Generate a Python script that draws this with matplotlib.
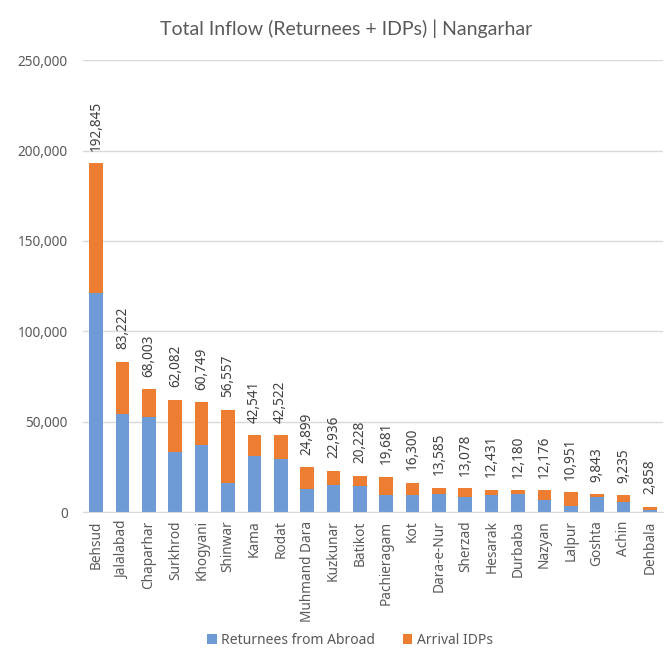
import numpy as np
import matplotlib.pyplot as plt
from matplotlib.ticker import FuncFormatter

districts = ["Behsud", "Jalalabad", "Chaparhar", "Surkhrod", "Khogyani", "Shinwar",
             "Kama", "Rodat", "Muhmand Dara", "Kuzkunar", "Batikot", "Pachieragam",
             "Kot", "Dara-e-Nur", "Sherzad", "Hesarak", "Durbaba", "Nazyan",
             "Lalpur", "Goshta", "Achin", "Dehbala"]
totals = [192845, 83222, 68003, 62082, 60749, 56557, 42541, 42522, 24899, 22936,
          20228, 19681, 16300, 13585, 13078, 12431, 12180, 12176, 10951, 9843,
          9235, 2858]
# returnees, IDPs = total - returnees
returnees = [121000, 54200, 52400, 33400, 36900, 16200, 30800, 29300, 12900, 14900,
             14600, 9600, 9200, 10100, 8300, 9400, 10000, 6800, 3500, 8500,
             5500, 900]
idps = [t - r for t, r in zip(totals, returnees)]

blue = "#6E9AD5"
orange = "#ED7D31"
grey = "#595959"

plt.rcParams['font.family'] = ['Noto Sans', 'DejaVu Sans']

fig = plt.figure(figsize=(6.64, 6.54), dpi=100)
ax = fig.add_axes([0.125, 0.217, 0.8735, 0.691])

x = np.arange(len(districts))
ax.bar(x, returnees, width=0.52, color=blue, label="Returnees from Abroad", zorder=2)
ax.bar(x, idps, width=0.52, bottom=returnees, color=orange, label="Arrival IDPs", zorder=2)

for xi, t in zip(x, totals):
    ax.annotate(f"{t:,}", (xi, t), xytext=(0, 9), textcoords="offset points",
                rotation=90, ha="center", va="bottom", fontsize=9.8, color="#404040")

ax.set_ylim(0, 250000)
ax.set_xlim(-0.5, len(districts) - 0.5)
ax.set_yticks(np.arange(0, 250001, 50000))
ax.yaxis.set_major_formatter(FuncFormatter(lambda v, p: f"{int(v):,}"))
ax.set_xticks(x)
ax.set_xticklabels(districts, rotation=90)
ax.tick_params(axis="both", length=0, labelsize=9.8, labelcolor=grey)
ax.tick_params(axis="y", pad=11)
ax.tick_params(axis="x", pad=6)
ax.grid(axis="y", color="#D9D9D9", linewidth=1, zorder=0)
for s in ["top", "right", "left"]:
    ax.spines[s].set_visible(False)
ax.spines["bottom"].set_color("#D9D9D9")

fig.suptitle("Total Inflow (Returnees + IDPs) | Nangarhar", x=0.522, y=0.97, fontsize=14,
             color=grey, family=["Lato", "DejaVu Sans"])

fig.legend(loc="lower center", bbox_to_anchor=(0.527, -0.006), ncol=2, frameon=False,
           fontsize=10, handlelength=0.7, handleheight=0.7, handletextpad=0.3,
           columnspacing=2.0, labelcolor=grey, borderpad=0.2)

fig.savefig("out.png", dpi=100)
